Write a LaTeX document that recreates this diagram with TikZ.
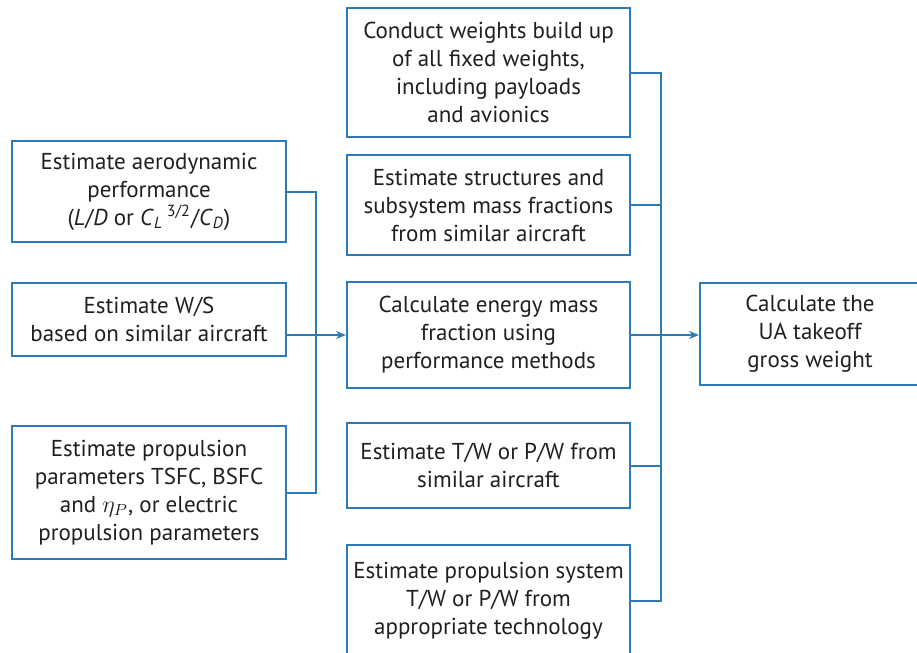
\documentclass[tikz,border=0pt]{standalone}
\usepackage{fontspec}
\setmainfont{PT Sans}
\usetikzlibrary{arrows.meta}
\definecolor{aoiro}{HTML}{2B7BB9}
\definecolor{sumi}{HTML}{231F20}

\begin{document}
\begin{tikzpicture}[x=0.5pt, y=-0.5pt,
    box/.style={draw=aoiro, line width=1pt, fill=white, text=sumi, align=center,
        inner sep=0pt, font=\fontsize{11.5}{14}\selectfont},
    wire/.style={draw=aoiro, line width=1pt},
    feed/.style={wire, -{Stealth[length=5pt, width=4pt]}}]
    \useasboundingbox (0, 0) rectangle (917, 653);

    % left
    \node[box, minimum width=137pt, minimum height=50.5pt] (aero) at (149, 191.5)
        {Estimate aerodynamic\\performance\\(\textit{L}/\textit{D} or \textit{C}\textsubscript{\textit{L}}\,\textsuperscript{3/2}/\textit{C}\textsubscript{\textit{D}})};
    \node[box, minimum width=137pt, minimum height=36.5pt] (wingload) at (149, 319.5)
        {Estimate W/S\\based on similar aircraft};
    \node[box, minimum width=137pt, minimum height=66.5pt] (propul) at (149, 492.5)
        {Estimate propulsion\\parameters TSFC, BSFC\\and $\eta_{P}$, or electric\\propulsion parameters};

    % middle
    \node[box, minimum width=141.5pt, minimum height=64.5pt] (fixedwt) at (488.5, 72.5)
        {Conduct weights build up\\of all fixed weights,\\including payloads\\and avionics};
    \node[box, minimum width=141.5pt, minimum height=50pt] (structfrac) at (488.5, 205)
        {Estimate structures and\\subsystem mass fractions\\from similar aircraft};
    \node[box, minimum width=141.5pt, minimum height=53pt] (energy) at (488.5, 335)
        {Calculate energy mass\\fraction using\\performance methods};
    \node[box, minimum width=141.5pt, minimum height=42.5pt] (thrustwt) at (488.5, 465.5)
        {Estimate T/W or P/W from\\similar aircraft};
    \node[box, minimum width=141.5pt, minimum height=55.5pt] (propsys) at (488.5, 600.5)
        {Estimate propulsion system\\T/W or P/W from\\appropriate technology};

    % right
    \node[box, minimum width=110pt, minimum height=51pt] (grosswt) at (810, 334)
        {Calculate the\\UA takeoff\\gross weight};

    % buses
    \coordinate (lbus) at (316, 0);
    \coordinate (rbus) at (661, 0);

    \draw[wire] (aero.east) -- (aero.east -| lbus) -- (propul.east -| lbus) -- (propul.east);
    \draw[feed] (energy.west -| wingload.east) -- (energy.west);

    \draw[wire] (fixedwt.east) -- (fixedwt.east -| rbus) -- (propsys.east -| rbus) -- (propsys.east);
    \foreach \n in {structfrac, thrustwt}
        \draw[wire] (\n.east) -- (\n.east -| rbus);
    \draw[feed] (energy.east) -- (energy.east -| grosswt.west);

\end{tikzpicture}
\end{document}
